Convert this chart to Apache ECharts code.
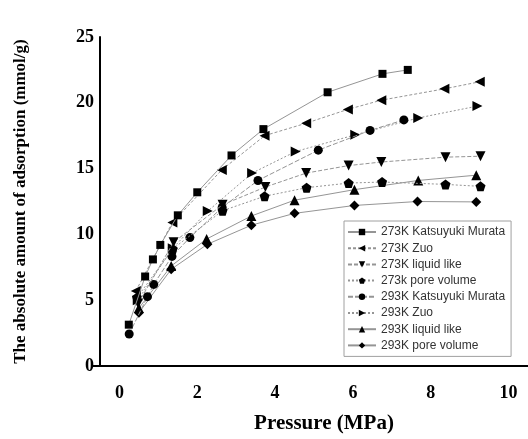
<!DOCTYPE html>
<html>
<head>
<meta charset="utf-8">
<script src="https://cdn.jsdelivr.net/npm/echarts@6/dist/echarts.min.js"></script>
<style>
html,body{margin:0;padding:0;background:#fff;}
#chart{width:528px;height:439px;}
</style>
</head>
<body>
<div id="chart"></div>
<script>
var seriesNames = ['273K Katsuyuki Murata','273K Zuo','273K liquid like','273k pore volume','293K Katsuyuki Murata','293K Zuo','293K liquid like','293K pore volume'];

var p273KM = [0.24,0.66,0.86,1.05,1.50,2.0,2.88,3.70,5.35,6.76,7.41];
var v273KM = [3.14,6.8,8.1,9.2,11.45,13.2,16.0,18.0,20.8,22.2,22.5];

var p273Zuo = [0.42,1.36,2.63,3.73,4.80,5.87,6.73,8.35,9.26];
var v273Zuo = [5.7,10.9,14.9,17.5,18.45,19.5,20.2,21.06,21.6];

var p273LL = [0.48,1.39,2.65,3.75,4.80,5.89,6.73,8.38,9.28];
var v273LL = [4.75,9.4,12.25,13.6,14.66,15.23,15.5,15.87,15.94];

var p273PV = [0.45,1.37,2.65,3.73,4.81,5.89,6.75,8.38,9.28];
var v273PV = [5.2,8.9,11.8,12.9,13.55,13.9,13.98,13.8,13.65];

var p293KM = [0.25,0.72,0.88,1.35,1.81,2.64,3.56,5.11,6.44,7.31];
var v293KM = [2.43,5.27,6.2,8.33,9.76,12.05,14.1,16.4,17.9,18.7];

var p293Zuo = [0.47,1.37,2.27,3.41,4.53,6.06,7.68,9.2];
var v293Zuo = [5.0,8.95,11.77,14.66,16.3,17.57,18.85,19.75];

var p293LL = [0.5,1.33,2.24,3.39,4.50,6.04,7.68,9.17];
var v293LL = [4.4,7.6,9.65,11.4,12.6,13.4,14.1,14.5];

var p293PV = [0.5,1.33,2.26,3.39,4.50,6.04,7.66,9.17];
var v293PV = [4.05,7.35,9.25,10.7,11.6,12.2,12.5,12.47];

var xTicks = [0,2,4,6,8,10];
var yTicks = [0,5,10,15,20,25];

function pairs(xs, ys){ return xs.map(function(x,i){ return [x, ys[i]]; }); }

var pentagon = 'path://M5,0 L10,3.8 L8.1,10 L1.9,10 L0,3.8 Z';
var styles = [
  {symbol:'rect', size:8, rot:0, type:'solid'},
  {symbol:'triangle', size:10, rot:90, type:[3,2]},
  {symbol:'triangle', size:10, rot:180, type:[4,2]},
  {symbol:pentagon, size:10, rot:0, type:[2,2]},
  {symbol:'circle', size:9, rot:0, type:[5,2]},
  {symbol:'triangle', size:10, rot:-90, type:[2,2]},
  {symbol:'triangle', size:10, rot:0, type:'solid'},
  {symbol:'diamond', size:[10,10], rot:0, type:'solid'}
];
var dataSets = [
  pairs(p273KM, v273KM), pairs(p273Zuo, v273Zuo), pairs(p273LL, v273LL), pairs(p273PV, v273PV),
  pairs(p293KM, v293KM), pairs(p293Zuo, v293Zuo), pairs(p293LL, v293LL), pairs(p293PV, v293PV)
];

var series = seriesNames.map(function(n,i){
  var s = styles[i];
  return {
    name:n, type:'line', data:dataSets[i], smooth:false,
    symbol:s.symbol, symbolSize:s.size, symbolRotate:s.rot, showAllSymbol:true,
    itemStyle:{color:'#000'},
    lineStyle:{color:'#959595', width:1, type:s.type},
    emphasis:{disabled:true}, animation:false, z: 10-i
  };
});

var serif = '"Liberation Serif","Times New Roman",serif';
var chart = echarts.init(document.getElementById('chart'), null, {renderer:'canvas'});
chart.setOption({
  animation:false,
  backgroundColor:'#fff',
  grid:{left:100, top:37, height:332, width:436},
  legend:{
    orient:'vertical', left:344, top:221, padding:[4,6,4,3],
    borderColor:'#a0a0a0', borderWidth:1, backgroundColor:'#fff',
    itemWidth:28, itemHeight:8, itemGap:2.2,
    textStyle:{fontFamily:'"Liberation Sans",Arial,sans-serif', fontSize:12, color:'#333', lineHeight:14},
    data:seriesNames
  },
  xAxis:{
    type:'value', min:-0.5, max:10.5,
    name:'Pressure (MPa)', nameLocation:'middle', nameGap:47,
    nameTextStyle:{fontFamily:serif, fontWeight:'bold', fontSize:21, color:'#000', padding:[0,0,0,20]},
    axisLine:{onZero:false, lineStyle:{color:'#000', width:2}},
    axisTick:{show:false},
    splitLine:{show:false},
    axisLabel:{customValues:xTicks, margin:18, fontFamily:serif, fontWeight:'bold', fontSize:18, color:'#000'}
  },
  yAxis:{
    type:'value', min:0, max:25, interval:5,
    name:'The absolute amount of adsorption (mmol/g)', nameLocation:'middle', nameGap:71,
    nameTextStyle:{fontFamily:serif, fontWeight:'bold', fontSize:17, color:'#000'},
    axisLine:{onZero:false, lineStyle:{color:'#000', width:2}},
    axisTick:{show:true, customValues:[0], length:7, lineStyle:{color:'#000', width:2}},
    splitLine:{show:false},
    axisLabel:{customValues:yTicks, margin:6, fontFamily:serif, fontWeight:'bold', fontSize:18, color:'#000'}
  },
  series:series
});
</script>
</body>
</html>
